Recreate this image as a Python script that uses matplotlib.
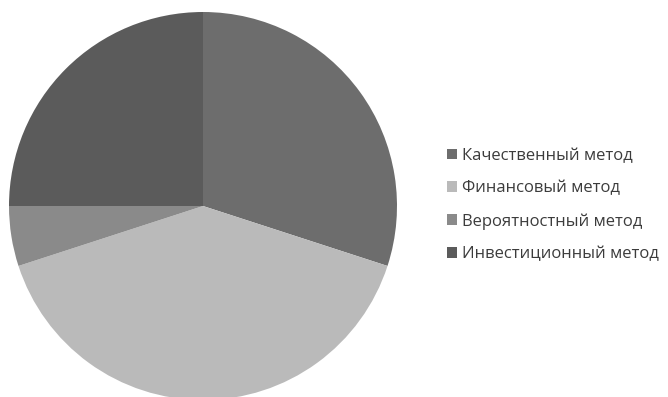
import matplotlib.pyplot as plt

labels = ["Качественный метод", "Финансовый метод", "Вероятностный метод", "Инвестиционный метод"]
values = [30, 40, 5, 25]
colors = ["#6d6d6d", "#bababa", "#8a8a8a", "#5b5b5b"]

plt.rcParams['font.family'] = ['Open Sans', 'DejaVu Sans']

fig = plt.figure(figsize=(6.68, 3.97), dpi=100)
# pie centre about (203, 206) px, radius 194 px
ax = fig.add_axes([9 / 668, -3 / 397, 388 / 668, 388 / 397])
wedges, _ = ax.pie(values, colors=colors, startangle=90, counterclock=False,
                   radius=1, wedgeprops=dict(linewidth=0))
ax.set_xlim(-1, 1)
ax.set_ylim(-1, 1)
ax.set_aspect('equal')
ax.axis('off')

fig.legend(wedges, labels, loc='center left', bbox_to_anchor=(432 / 668, 1 - 205 / 397),
           frameon=False, fontsize=12, handlelength=0.6, handleheight=0.6,
           handletextpad=0.3, labelspacing=1.0, labelcolor='#3c3c3c')

fig.savefig("out.png", dpi=100)
